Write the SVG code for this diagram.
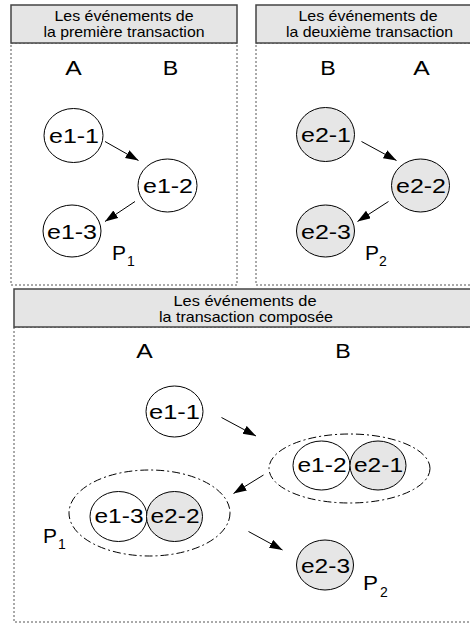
<svg xmlns="http://www.w3.org/2000/svg" width="470" height="624" viewBox="0 0 470 624">
<defs>
<marker id="ah" markerUnits="userSpaceOnUse" markerWidth="14" markerHeight="10" refX="13" refY="4.5" orient="auto">
<path d="M0,0 L13,4.5 L0,9 z" fill="#000"/>
</marker>
</defs>
<style>
.frame{fill:#fff;stroke:#555;stroke-width:1;stroke-dasharray:2,2}
.hdr{fill:#e5e5e5;stroke:#444;stroke-width:1.5}
.ht{font-family:"Liberation Sans",Arial,sans-serif;font-size:14.5px;fill:#000;text-anchor:middle}
.lbl{font-family:"Liberation Sans",Arial,sans-serif;font-size:19.5px;fill:#000;text-anchor:middle}
.nt{font-family:"Liberation Sans",Arial,sans-serif;font-size:19.5px;fill:#000;text-anchor:middle}
.p{font-family:"Liberation Sans",Arial,sans-serif;font-size:20px;fill:#000}
.sub{font-family:"Liberation Sans",Arial,sans-serif;font-size:14px;fill:#000}
.w{fill:#fff;stroke:#000;stroke-width:1}
.g{fill:#e6e6e6;stroke:#000;stroke-width:1}
.grp{fill:none;stroke:#000;stroke-width:1;stroke-dasharray:8,3,2,3}
.arr{stroke:#000;stroke-width:1;fill:none;marker-end:url(#ah)}
</style>
<rect width="470" height="624" fill="#fff"/>

<g id="panel1">
<rect class="frame" x="11" y="43" width="226" height="242"/>
<rect class="hdr" x="11" y="5" width="226" height="38"/>
<text class="ht" x="124" y="20.5" textLength="139" lengthAdjust="spacingAndGlyphs">Les événements de</text>
<text class="ht" x="124" y="37" textLength="161" lengthAdjust="spacingAndGlyphs">la première transaction</text>
<text class="lbl" x="73.5" y="75" textLength="16.5" lengthAdjust="spacingAndGlyphs">A</text>
<text class="lbl" x="170.5" y="75" textLength="15.5" lengthAdjust="spacingAndGlyphs">B</text>
<text class="p" x="112" y="260" textLength="14" lengthAdjust="spacingAndGlyphs">P</text>
<text class="sub" x="127" y="266">1</text>
</g>
<g id="p1-e1-1"><ellipse class="w" cx="73.5" cy="135.5" rx="29.5" ry="27"/><text class="nt" x="74" y="142.5" textLength="50" lengthAdjust="spacingAndGlyphs">e1-1</text></g>
<g id="p1-e1-2"><ellipse class="w" cx="167.5" cy="185.5" rx="29.5" ry="26.5"/><text class="nt" x="168" y="192.5" textLength="50" lengthAdjust="spacingAndGlyphs">e1-2</text></g>
<g id="p1-e1-3"><ellipse class="w" cx="72" cy="231" rx="29" ry="26"/><text class="nt" x="72" y="238.5" textLength="50" lengthAdjust="spacingAndGlyphs">e1-3</text></g>

<g id="panel2">
<rect class="frame" x="256" y="43" width="230" height="242"/>
<rect class="hdr" x="256" y="5" width="228" height="38"/>
<text class="ht" x="368" y="20.5" textLength="139" lengthAdjust="spacingAndGlyphs">Les événements de</text>
<text class="ht" x="369.5" y="37" textLength="167" lengthAdjust="spacingAndGlyphs">la deuxième transaction</text>
<text class="lbl" x="328" y="75" textLength="15.5" lengthAdjust="spacingAndGlyphs">B</text>
<text class="lbl" x="421.5" y="75" textLength="16.5" lengthAdjust="spacingAndGlyphs">A</text>
<text class="p" x="365" y="260" textLength="14" lengthAdjust="spacingAndGlyphs">P</text>
<text class="sub" x="379" y="266">2</text>
</g>
<g id="p2-e2-1"><ellipse class="g" cx="325.5" cy="134.5" rx="29" ry="27"/><text class="nt" x="326" y="141.5" textLength="50" lengthAdjust="spacingAndGlyphs">e2-1</text></g>
<g id="p2-e2-2"><ellipse class="g" cx="420.5" cy="185.5" rx="29" ry="26.5"/><text class="nt" x="421" y="192.5" textLength="50" lengthAdjust="spacingAndGlyphs">e2-2</text></g>
<g id="p2-e2-3"><ellipse class="g" cx="325.5" cy="231" rx="29" ry="26"/><text class="nt" x="326" y="238.5" textLength="50" lengthAdjust="spacingAndGlyphs">e2-3</text></g>

<g id="panel3">
<rect class="frame" x="14" y="327" width="470" height="295"/>
<rect class="hdr" x="14" y="289" width="466" height="38"/>
<text class="ht" x="245" y="305.5" textLength="143" lengthAdjust="spacingAndGlyphs">Les événements de</text>
<text class="ht" x="246" y="322" textLength="174" lengthAdjust="spacingAndGlyphs">la transaction composée</text>
<text class="lbl" x="144.5" y="357.5" textLength="16.5" lengthAdjust="spacingAndGlyphs">A</text>
<text class="lbl" x="343" y="357.5" textLength="15.5" lengthAdjust="spacingAndGlyphs">B</text>
<text class="p" x="43" y="543" textLength="14" lengthAdjust="spacingAndGlyphs">P</text>
<text class="sub" x="58" y="549">1</text>
<text class="p" x="363" y="590" textLength="15" lengthAdjust="spacingAndGlyphs">P</text>
<text class="sub" x="380" y="597">2</text>
</g>
<g id="grp-1"><ellipse class="grp" cx="349.5" cy="468.5" rx="80.5" ry="34.5"/></g>
<g id="grp-2"><ellipse class="grp" cx="149.5" cy="513" rx="80.5" ry="43"/></g>
<g id="c-e1-1"><ellipse class="w" cx="174.5" cy="411.5" rx="28.5" ry="25.5"/><text class="nt" x="174.5" y="418.5" textLength="51" lengthAdjust="spacingAndGlyphs">e1-1</text></g>
<g id="c-e1-2"><ellipse class="w" cx="321.5" cy="465.5" rx="28.5" ry="24.5"/><text class="nt" x="322" y="472" textLength="49" lengthAdjust="spacingAndGlyphs">e1-2</text></g>
<g id="c-e2-1"><ellipse class="g" cx="378" cy="465.5" rx="28" ry="24.5"/><text class="nt" x="378.5" y="472" textLength="49" lengthAdjust="spacingAndGlyphs">e2-1</text></g>
<g id="c-e1-3"><ellipse class="w" cx="118.5" cy="516.5" rx="28.5" ry="25"/><text class="nt" x="119" y="523" textLength="49" lengthAdjust="spacingAndGlyphs">e1-3</text></g>
<g id="c-e2-2"><ellipse class="g" cx="174.5" cy="516.5" rx="28" ry="25"/><text class="nt" x="175" y="523" textLength="49" lengthAdjust="spacingAndGlyphs">e2-2</text></g>
<g id="c-e2-3"><ellipse class="g" cx="325" cy="565" rx="28.5" ry="25"/><text class="nt" x="325.5" y="572.5" textLength="49" lengthAdjust="spacingAndGlyphs">e2-3</text></g>

<g id="connectors">
<line class="arr" x1="105" y1="141.5" x2="138.5" y2="160.5"/>
<line class="arr" x1="135" y1="201.5" x2="105" y2="221.5"/>
<line class="arr" x1="361.5" y1="141.5" x2="396.5" y2="160.5"/>
<line class="arr" x1="388.5" y1="201.5" x2="357.5" y2="221.5"/>
<line class="arr" x1="221.5" y1="417.5" x2="256" y2="436"/>
<line class="arr" x1="263.5" y1="475" x2="233.5" y2="493.5"/>
<line class="arr" x1="248.5" y1="531.5" x2="282.5" y2="550"/>
</g>
</svg>
